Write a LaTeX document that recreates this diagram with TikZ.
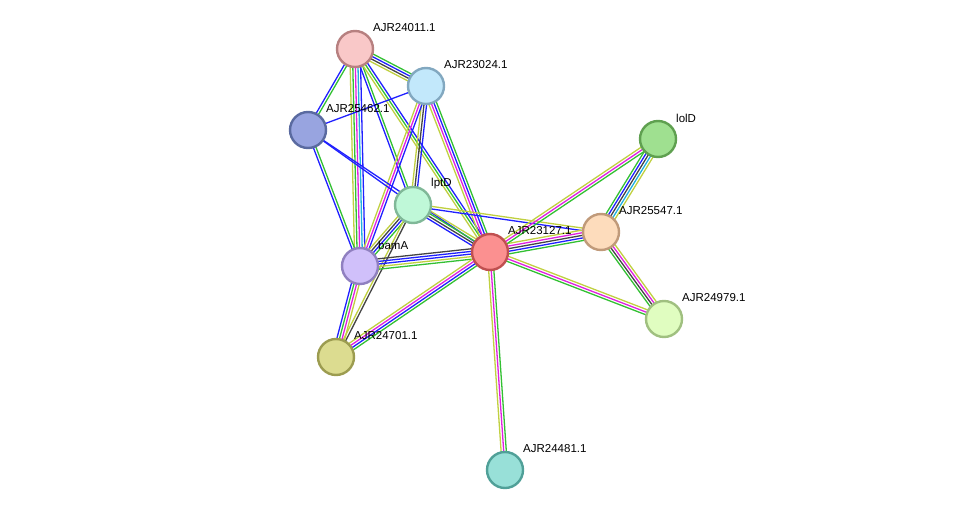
\documentclass[tikz,border=0pt]{standalone}
\usepackage{fontspec}
\setmainfont{Liberation Sans}
\usetikzlibrary{calc}
\definecolor{G}{HTML}{33C033}
\definecolor{B}{HTML}{2020FF}
\definecolor{M}{HTML}{E020E0}
\definecolor{Y}{HTML}{C0D040}
\definecolor{K}{HTML}{444444}
\definecolor{C}{HTML}{20B0E0}
\newcommand\edge[4]{%
 \foreach \c [count=\i] in {#4} {%
  \pgfmathsetmacro\o{(\i-(#3+1)/2)*2.6}%
  \draw[\c,line width=1.3pt] ($(#1.center)!\o pt!90:(#2.center)$) -- ($(#2.center)!\o pt!-90:(#1.center)$);
 }}
\begin{document}
\begin{tikzpicture}[x=1pt,y=-1pt,
 nd/.style={circle,minimum size=36pt,inner sep=0pt,line width=2.4pt},
 lb/.style={font=\fontsize{11.5}{12}\selectfont,anchor=west,inner sep=0pt}]
\useasboundingbox (0,0) rectangle (976,516);
\coordinate (a) at (355,49);
\coordinate (b) at (426,86);
\coordinate (c) at (308,130);
\coordinate (d) at (658,139);
\coordinate (e) at (413,205);
\coordinate (f) at (601,232);
\coordinate (g) at (490,252);
\coordinate (h) at (360,266);
\coordinate (i) at (664,319);
\coordinate (j) at (336,357);
\coordinate (k) at (505,470);
\edge{a}{b}{4}{Y,K,B,G}
\edge{a}{c}{2}{B,G}
\edge{a}{h}{5}{Y,G,M,C,B}
\edge{a}{e}{2}{B,G}
\edge{a}{g}{3}{Y,G,B}
\edge{b}{c}{1}{B}
\edge{b}{e}{3}{Y,K,B}
\edge{b}{h}{3}{Y,M,B}
\edge{b}{g}{4}{Y,M,B,G}
\edge{c}{e}{1}{B}
\edge{c}{g}{1}{B}
\edge{c}{h}{2}{B,G}
\edge{e}{h}{4}{Y,K,B,G}
\edge{e}{g}{4}{B,K,G,Y}
\edge{e}{f}{2}{B,Y}
\edge{e}{j}{2}{Y,K}
\edge{h}{g}{5}{G,Y,B,B,K}
\edge{h}{j}{4}{B,G,M,Y}
\edge{g}{j}{4}{Y,M,B,G}
\edge{g}{f}{5}{G,B,K,M,Y}
\edge{g}{d}{3}{G,M,Y}
\edge{g}{i}{3}{G,M,Y}
\edge{g}{k}{3}{Y,M,G}
\edge{f}{d}{5}{Y,C,K,B,G}
\edge{f}{i}{4}{G,K,M,Y}
\foreach \p/\f/\b/\t in {a/F9C8C8/B78080/AJR24011.1, b/C2E8FB/82A8C0/AJR23024.1, c/98A4E0/5A6AA0/AJR25462.1, d/9FE090/5FA050/lolD, e/BFF8D8/80B898/lptD, f/FDDCBC/C09A7A/AJR25547.1, g/FB9090/C05050/AJR23127.1, h/D0C0FA/9080C0/bamA, i/E0FDC0/A0C080/AJR24979.1, j/DCDC90/9C9C50/AJR24701.1, k/98E0D8/50A098/AJR24481.1}{
 \definecolor{fc}{HTML}{\f}\definecolor{bc}{HTML}{\b}
 \node[nd,fill=fc,draw=bc] (n\p) at (\p) {};
 \node[lb] (l\p) at ($(\p)+(18,-21)$) {\t};
}
\end{tikzpicture}
\end{document}
